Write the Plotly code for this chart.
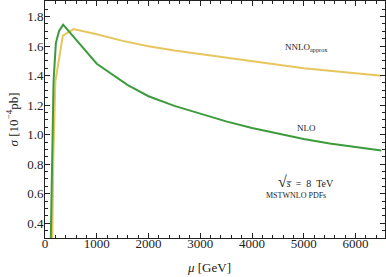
import plotly.graph_objects as go

mu_nlo = [110, 135, 165, 210, 270, 350, 1000, 1600, 2000, 2500, 3000, 3500, 4000, 4500, 5000, 5500, 6000, 6500]
sigma_nlo = [0.25, 0.85, 1.36, 1.62, 1.70, 1.745, 1.48, 1.335, 1.26, 1.195, 1.14, 1.09, 1.045, 1.005, 0.97, 0.94, 0.915, 0.893]

mu_nnlo = [140, 160, 200, 280, 345, 550, 1000, 1500, 2000, 2500, 3000, 3500, 4000, 4500, 5000, 5500, 6000, 6500]
sigma_nnlo = [0.25, 0.82, 1.36, 1.54, 1.67, 1.715, 1.68, 1.635, 1.598, 1.57, 1.545, 1.52, 1.495, 1.472, 1.45, 1.432, 1.415, 1.398]

x_ticks = [0, 1000, 2000, 3000, 4000, 5000, 6000]
y_ticks = [0.4, 0.6, 0.8, 1.0, 1.2, 1.4, 1.6, 1.8]

GREEN = "#3d9a3d"
YELLOW = "#e8c65e"
FONT = "Liberation Serif"

fig = go.Figure()
fig.add_trace(go.Scatter(x=mu_nnlo, y=sigma_nnlo, mode="lines",
                         line=dict(color=YELLOW, width=2), showlegend=False))
fig.add_trace(go.Scatter(x=mu_nlo, y=sigma_nlo, mode="lines",
                         line=dict(color=GREEN, width=2), showlegend=False))

axis_common = dict(showline=True, linecolor="#222", linewidth=1, mirror="allticks",
                   ticks="inside", ticklen=5, tickwidth=1, tickcolor="#222",
                   showgrid=False, zeroline=False,
                   tickfont=dict(family=FONT, size=13, color="#222"))

fig.update_xaxes(range=[0, 6570], tickvals=x_ticks, ticktext=[str(v) for v in x_ticks],
                 ticklabelstandoff=-7,
                 minor=dict(dtick=200, tick0=0, ticks="inside", ticklen=3, tickcolor="#222", showgrid=False),
                 **axis_common)
fig.update_yaxes(range=[0.3, 1.905], tickvals=y_ticks, ticktext=[f"{v:.1f}" for v in y_ticks],
                 ticklabelstandoff=-2,
                 minor=dict(dtick=0.05, tick0=0, ticks="inside", ticklen=3, tickcolor="#222", showgrid=False),
                 **axis_common)

ann_font = dict(family=FONT, color="#222")
fig.add_annotation(x=0, xref="paper", y=0.5, yref="paper", xshift=-33, textangle=-90,
                   text="<i>σ</i> [10<sup>−4</sup>pb]", showarrow=False,
                   font=dict(size=13, **ann_font), xanchor="center", yanchor="middle")
fig.add_annotation(x=3170, xref="x", y=0, yref="paper", yshift=-29,
                   text="<i>μ</i> [GeV]", showarrow=False,
                   font=dict(size=13, **ann_font), xanchor="center", yanchor="middle")
fig.add_annotation(x=5060, y=1.59, text="NNLO<sub>approx</sub>", showarrow=False,
                   font=dict(size=9, **ann_font), xanchor="center", yanchor="middle")
fig.add_annotation(x=5055, y=1.046, text="NLO", showarrow=False,
                   font=dict(size=9, **ann_font), xanchor="center", yanchor="middle")
fig.add_annotation(x=5040, y=0.68,
                   text="<span style='font-size:16px'>√</span><i>s\u0305</i>  =  8  TeV",
                   showarrow=False,
                   font=dict(size=10, **ann_font), xanchor="center", yanchor="middle")
fig.add_annotation(x=4848, y=0.59, text="MSTWNLO PDFs", showarrow=False,
                   font=dict(size=8, **ann_font), xanchor="center", yanchor="middle")

fig.update_layout(width=386, height=277, margin=dict(l=45, r=1, t=1, b=39),
                  paper_bgcolor="white", plot_bgcolor="white")

fig.write_html("out.html", config={"displayModeBar": False},
               post_script="document.body.style.margin='0';document.body.style.overflow='hidden';")
